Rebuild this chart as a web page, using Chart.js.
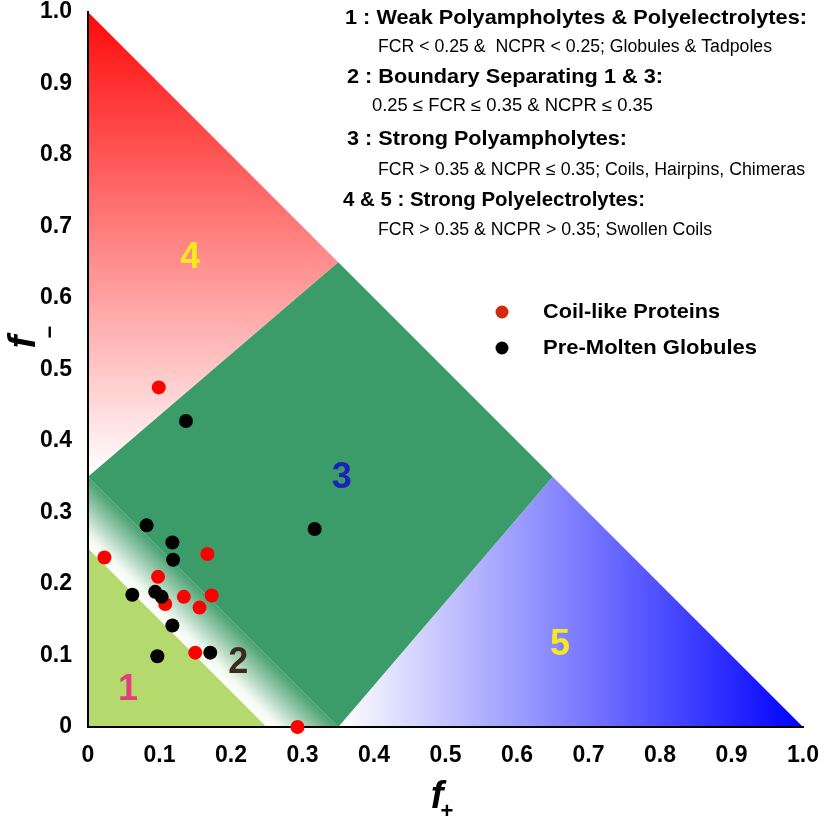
<!DOCTYPE html>
<html>
<head>
<meta charset="utf-8">
<script src="https://cdn.jsdelivr.net/npm/chart.js@4.4.1/dist/chart.umd.min.js"></script>
<style>
  html, body { margin: 0; padding: 0; background: #fff; }
</style>
</head>
<body>
<canvas id="phaseChart" width="824" height="828"></canvas>
<script>
// FCR thresholds for the regions
const weakFCR = 0.25;
const strongFCR = 0.35;
// where the strong polyampholyte region meets f+ + f- = 1
const strongCorner = 0.65;

const tickLabels = ["0", "0.1", "0.2", "0.3", "0.4", "0.5", "0.6", "0.7", "0.8", "0.9", "1.0"];

// coil-like proteins (red)
const coilX = [0.099, 0.023, 0.167, 0.098, 0.108, 0.134, 0.156, 0.173, 0.150, 0.293];
const coilY = [0.475, 0.237, 0.242, 0.210, 0.172, 0.182, 0.167, 0.184, 0.104, 0.000];

// pre-molten globules (black)
const pmgX = [0.137, 0.082, 0.118, 0.119, 0.317, 0.062, 0.094, 0.103, 0.118, 0.097, 0.171];
const pmgY = [0.428, 0.282, 0.258, 0.234, 0.277, 0.185, 0.189, 0.182, 0.142, 0.099, 0.104];

const regionNames = ["1", "2", "3", "4", "5"];

const classText = [
  "1 : Weak Polyampholytes & Polyelectrolytes:",
  "FCR < 0.25 &  NCPR < 0.25; Globules & Tadpoles",
  "2 : Boundary Separating 1 & 3:",
  "0.25 \u2264 FCR \u2264 0.35 & NCPR \u2264 0.35",
  "3 : Strong Polyampholytes:",
  "FCR > 0.35 & NCPR \u2264 0.35; Coils, Hairpins, Chimeras",
  "4 & 5 : Strong Polyelectrolytes:",
  "FCR > 0.35 & NCPR > 0.35; Swollen Coils"
];

const FONT = "'Liberation Sans', Arial, sans-serif";

function toPoints(xs, ys) {
  return xs.map((x, i) => ({ x: x, y: ys[i] }));
}

// draw text squeezed/stretched to a given width
function fitText(ctx, text, x, y, font, width, color) {
  ctx.save();
  ctx.font = font;
  ctx.fillStyle = color;
  ctx.textAlign = 'left';
  ctx.textBaseline = 'middle';
  const w = ctx.measureText(text).width;
  ctx.translate(x, y);
  ctx.scale(width / w, 1);
  ctx.fillText(text, 0, 0);
  ctx.restore();
}

const regionsPlugin = {
  id: 'regions',
  beforeDraw(chart) {
    const ctx = chart.ctx;
    const px = v => chart.scales.x.getPixelForValue(v);
    const py = v => chart.scales.y.getPixelForValue(v);
    const poly = (pts, fill) => {
      ctx.beginPath();
      pts.forEach((p, i) => i ? ctx.lineTo(px(p[0]), py(p[1])) : ctx.moveTo(px(p[0]), py(p[1])));
      ctx.closePath();
      ctx.fillStyle = fill;
      ctx.fill();
    };
    ctx.save();
    ctx.fillStyle = '#ffffff';
    ctx.fillRect(0, 0, chart.width, chart.height);

    // 4 : red, fades downwards
    let g = ctx.createLinearGradient(0, py(1), 0, py(strongFCR));
    g.addColorStop(0, '#ff0a0a');
    g.addColorStop(1, '#ffffff');
    poly([[0, strongFCR], [strongFCR, strongCorner], [0, 1]], g);

    // 5 : blue, fades to the left
    g = ctx.createLinearGradient(px(strongFCR), 0, px(1), 0);
    g.addColorStop(0, '#ffffff');
    g.addColorStop(1, '#0000ff');
    poly([[strongFCR, 0], [1, 0], [strongCorner, strongFCR]], g);

    // 3 : green
    poly([[0, strongFCR], [strongFCR, 0], [strongCorner, strongFCR], [strongFCR, strongCorner]], '#3b9b69');

    // 1 : light green
    poly([[0, 0], [weakFCR, 0], [0, weakFCR]], '#b4d96c');

    // 2 : boundary band, white -> green
    g = ctx.createLinearGradient(px(weakFCR / 2), py(weakFCR / 2), px(strongFCR / 2), py(strongFCR / 2));
    g.addColorStop(0, '#ffffff');
    g.addColorStop(0.2, '#f1f8ef');
    g.addColorStop(1, '#47a070');
    poly([[weakFCR, 0], [strongFCR, 0], [0, strongFCR], [0, weakFCR]], g);
    ctx.restore();
  },
  afterDraw(chart) {
    const ctx = chart.ctx;
    const px = v => chart.scales.x.getPixelForValue(v);
    const py = v => chart.scales.y.getPixelForValue(v);

    // region numbers
    const spots = [[0.056, 0.052], [0.210, 0.090], [0.355, 0.348], [0.143, 0.656], [0.660, 0.115]];
    const colors = ['#e23d7d', '#3b2a1e', '#1a22b8', '#f8e81c', '#f8e81c'];
    ctx.save();
    ctx.font = 'bold 36px ' + FONT;
    ctx.textAlign = 'center';
    ctx.textBaseline = 'middle';
    regionNames.forEach((t, i) => {
      ctx.fillStyle = colors[i];
      ctx.fillText(t, px(spots[i][0]), py(spots[i][1]));
    });
    ctx.restore();

    // classification text block
    const lineY = [18, 47, 77, 106, 139, 170, 200, 230];
    const lineX = [345, 378, 347, 372, 347, 378, 343, 378];
    const lineW = [462, 394, 316, 281, 280, 427, 302, 334];
    classText.forEach((t, i) => {
      const head = i % 2 === 0;
      fitText(ctx, t, lineX[i], lineY[i], (head ? 'bold 21px ' : '18px ') + FONT, lineW[i], '#000');
    });

    // legend
    const legendDot = ['#d42a10', '#000000'];
    const legendY = [312, 348];
    const legendW = [177, 214];
    chart.data.datasets.forEach((ds, i) => {
      ctx.beginPath();
      ctx.arc(502, legendY[i], 6.5, 0, Math.PI * 2);
      ctx.fillStyle = legendDot[i];
      ctx.fill();
      fitText(ctx, ds.label, 543, legendY[i], 'bold 21px ' + FONT, legendW[i], '#000');
    });

    // axis titles
    ctx.save();
    ctx.fillStyle = '#000';
    ctx.textAlign = 'center';
    ctx.textBaseline = 'alphabetic';
    ctx.font = 'italic bold 38px ' + FONT;
    ctx.fillText('f', 437, 808);
    ctx.font = 'bold 22px ' + FONT;
    ctx.fillText('+', 447, 818);

    ctx.translate(35, 342);
    ctx.rotate(-Math.PI / 2);
    ctx.font = 'italic bold 38px ' + FONT;
    ctx.fillText('f', 0, 0);
    ctx.font = 'bold 22px ' + FONT;
    ctx.fillText('\u2212', 10, 22);
    ctx.restore();
  }
};

const ctx = document.getElementById('phaseChart');

const phaseChart = new Chart(ctx, {
  type: 'scatter',
  data: {
    datasets: [{
      label: 'Coil-like Proteins',
      data: toPoints(coilX, coilY),
      backgroundColor: '#ff0000',
      borderWidth: 0,
      pointRadius: 7,
      pointHoverRadius: 7,
      clip: false,
      order: 1
    }, {
      label: 'Pre-Molten Globules',
      data: toPoints(pmgX, pmgY),
      backgroundColor: '#000000',
      borderWidth: 0,
      pointRadius: 7,
      pointHoverRadius: 7,
      clip: false,
      order: 0
    }]
  },
  options: {
    responsive: false,
    animation: false,
    devicePixelRatio: 1,
    layout: { padding: { top: 12, right: 21, left: 0, bottom: 0 } },
    plugins: { legend: { display: false }, tooltip: { enabled: false } },
    scales: {
      x: {
        type: 'linear',
        min: 0, max: 1,
        grid: { display: false },
        border: { display: true, color: '#000', width: 2 },
        ticks: {
          stepSize: 0.1,
          padding: 9,
          color: '#000',
          font: { family: FONT, size: 23, weight: 'bold', lineHeight: 1 },
          callback: (v, i) => tickLabels[i]
        },
        afterFit: s => { s.height = 101; s.paddingLeft = 0; s.paddingRight = 0; }
      },
      y: {
        type: 'linear',
        min: 0, max: 1,
        grid: { display: false },
        border: { display: true, color: '#000', width: 2 },
        ticks: {
          stepSize: 0.1,
          padding: 8,
          color: '#000',
          font: { family: FONT, size: 23, weight: 'bold', lineHeight: 1 },
          callback: (v, i) => tickLabels[i]
        },
        afterFit: s => { s.width = 88; s.paddingTop = 0; s.paddingBottom = 0; }
      }
    }
  },
  plugins: [regionsPlugin]
});
</script>
</body>
</html>
